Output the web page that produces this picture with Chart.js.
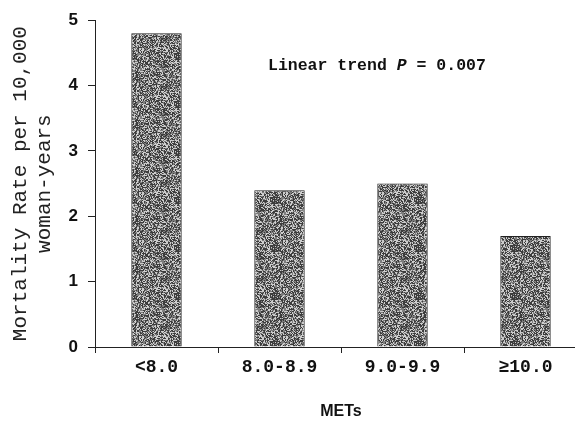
<!DOCTYPE html>
<html>
<head>
<meta charset="utf-8">
<script src="https://cdn.jsdelivr.net/npm/chart.js@4/dist/chart.umd.min.js"></script>
<style>
  html, body { margin: 0; padding: 0; background: #fff; overflow: hidden; }
  #wrap { width: 575px; height: 425px; overflow: hidden; }
</style>
</head>
<body>
<div id="wrap"><canvas id="grafik" width="590" height="425"></canvas></div>
<script>
// data
var kategori = ['<8.0', '8.0-8.9', '9.0-9.9', '\u226510.0'];
var mortalitas = [4.8, 2.4, 2.5, 1.7];
var tickY = [0, 1, 2, 3, 4, 5];

// stipple fill like the scanned bars
function bikinPola(){
	var c = document.createElement('canvas');
	c.width = 48; c.height = 48;
	var g = c.getContext('2d');
	var img = g.createImageData(48, 48);
	var s = 12345;
	for (var i = 0; i < 48 * 48; i++) {
		s = (s * 1103515245 + 12345) & 0x7fffffff;
		var r = (s >> 8) % 100;
		var v = r < 40 ? 60 : (r < 70 ? 125 : 205);
		img.data[i*4] = v; img.data[i*4+1] = v; img.data[i*4+2] = v; img.data[i*4+3] = 255;
	}
	g.putImageData(img, 0, 0);
	return g.createPattern(c, 'repeat');
}

var catatan = {
	id: 'catatan',
	afterDraw: function(chart){
		var ctx = chart.ctx;
		var y = chart.scales.y.getPixelForValue(4.3);
		var x = chart.chartArea.left + 173;
		ctx.save();
		ctx.fillStyle = '#111';
		ctx.textBaseline = 'middle';
		ctx.textAlign = 'left';
		var bagian = [
			['bold 16.5px "Liberation Mono"', 'Linear trend '],
			['italic bold 16.5px "Liberation Mono"', 'P'],
			['bold 16.5px "Liberation Mono"', ' = 0.007']
		];
		bagian.forEach(function(b){
			ctx.font = b[0];
			ctx.fillText(b[1], x, y);
			x += ctx.measureText(b[1]).width;
		});
		ctx.restore();
	}
};

var ctx = document.getElementById('grafik');
var grafikBar = new Chart(ctx, {
	type: 'bar',
	data: {
		labels: kategori,
		datasets: [{
			data: mortalitas,
			backgroundColor: bikinPola(),
			borderColor: '#222',
			borderWidth: 1,
			barPercentage: 0.41,
			categoryPercentage: 1
		}]
	},
	options: {
		responsive: false,
		animation: false,
		layout: { padding: { top: 17, right: 3, left: 0, bottom: 0 } },
		plugins: {
			legend: { display: false },
			tooltip: { enabled: false }
		},
		scales: {
			x: {
				grid: { drawOnChartArea: false, drawTicks: true, tickLength: 6, color: '#222', offset: true },
				border: { color: '#222', width: 1 },
				ticks: {
					color: '#111',
					padding: 4,
					font: { family: '"Liberation Mono"', size: 18, weight: 'bold' }
				},
				title: {
					display: true,
					text: 'METs',
					color: '#111',
					padding: { top: 0, bottom: 4 },
					font: { family: '"Liberation Sans"', size: 16, weight: 'bold' }
				},
				afterFit: function(scale){ scale.height = 78; }
			},
			y: {
				min: 0,
				max: 5,
				afterBuildTicks: function(scale){
					scale.ticks = tickY.map(function(v){ return { value: v }; });
				},
				grid: { drawOnChartArea: false, drawTicks: true, tickLength: 7, color: '#222' },
				border: { color: '#222', width: 1 },
				ticks: {
					color: '#111',
					padding: 10,
					font: { family: '"Liberation Sans"', size: 17, weight: 'bold' }
				},
				title: {
					display: true,
					text: ['Mortality Rate per 10,000', 'woman-years'],
					color: '#222',
					padding: { top: 8, bottom: 0 },
					font: { family: '"Liberation Mono"', size: 21, lineHeight: 1.15 }
				},
				afterFit: function(scale){ scale.width = 95; }
			}
		}
	},
	plugins: [catatan]
});
</script>
</body>
</html>
